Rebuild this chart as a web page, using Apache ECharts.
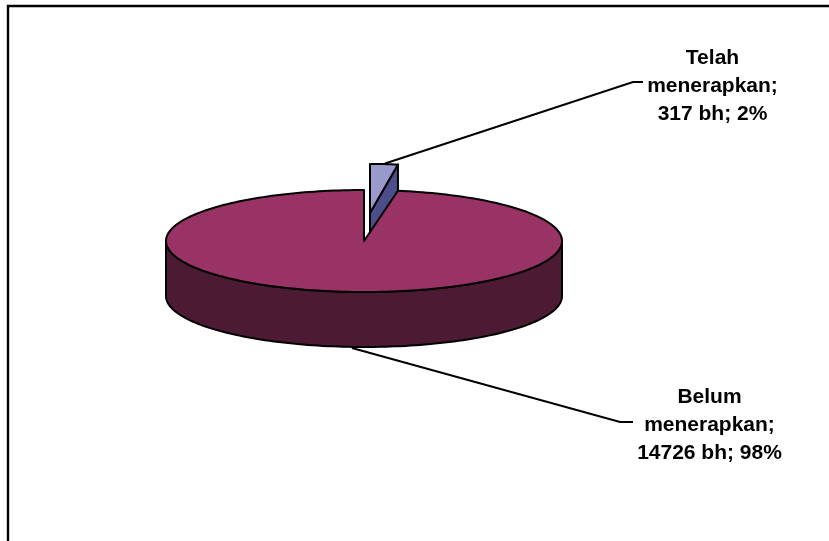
<!DOCTYPE html>
<html><head><meta charset="utf-8">
<style>html,body{margin:0;padding:0;background:#fff}#c{width:829px;height:541px}</style>
<script src="https://cdn.jsdelivr.net/npm/echarts@6/dist/echarts.min.js"></script>
</head><body><div id="c"></div>
<script>
const categories = ['Telah\nmenerapkan', 'Belum\nmenerapkan'];
const values = [317, 14726];
const percents = [2, 98];
const unit = 'bh';
const total = values[0] + values[1];

const CX = 364, CY = 241, RX = 198, RY = 51, DEPTH = 55;
const NOTCH_GAIN = 1.3, SLICE_GAIN = 1.07;
const EX_X = 370, EX_Y = 213, EX_RX = 198, EX_RY = 49;
const COLORS = {top0:'#9999cc', side0:'#4d4d8c', top1:'#993366', side1:'#4d1a33'};
const LINE = {stroke:'#000', lineWidth:2, lineJoin:'round'};
const FONT = 'bold 21px "Liberation Sans", Arial, sans-serif';

function pt(cx, cy, rx, ry, a) { return [cx + rx*Math.sin(a), cy - ry*Math.cos(a)]; }
function arc(cx, cy, rx, ry, a0, a1, n) {
  const out = [];
  for (let i = 0; i <= n; i++) out.push(pt(cx, cy, rx, ry, a0 + (a1-a0)*i/n));
  return out;
}
function poly(points, fill, z2) {
  return {type:'polygon', z2, shape:{points}, style:Object.assign({fill}, LINE)};
}
function polyline(points, z2) {
  return {type:'polyline', z2, shape:{points}, style:{stroke:'#000', lineWidth:2, fill:null}};
}
function renderItem(params, api) {
  const idx = params.dataIndex;
  const value = api.value(1);
  const sweep = value / total * Math.PI * 2;
  const children = [];
  const label = categories[idx] + ';\n' + value + ' ' + unit + '; ' + percents[idx] + '%';
  if (idx === 0) {
    const s = sweep * SLICE_GAIN;
    const a = arc(EX_X, EX_Y, EX_RX, EX_RY, 0, s, 8);
    const corner = a[a.length-1];
    children.push(poly([[EX_X,EX_Y],corner,[corner[0],corner[1]+DEPTH],[EX_X,EX_Y+DEPTH]], COLORS.side0, 1));
    children.push(poly([[EX_X,EX_Y]].concat(a), COLORS.top0, 2));
    children.push(polyline([[385,163.5],[633,82],[643,82]], 10));
    children.push({type:'text', z2:11, style:{text:label, x:712.5, y:44, align:'center', verticalAlign:'top', font:FONT, lineHeight:28, fill:'#000'}});
  } else {
    const start = (values[0]/total) * Math.PI * 2 * NOTCH_GAIN;
    const end = Math.PI * 2;
    const top = arc(CX, CY, RX, RY, start, end, 240);
    const wall = arc(CX, CY, RX, RY, Math.PI/2, Math.PI*1.5, 120);
    const wallLow = wall.map(p => [p[0], p[1]+DEPTH]).reverse();
    children.push(poly(wall.concat(wallLow), COLORS.side1, 3));
    children.push(poly([[CX,CY]].concat(top), COLORS.top1, 4));
    children.push(polyline([[352,348],[620,422],[633,422]], 10));
    children.push({type:'text', z2:11, style:{text:label, x:709.5, y:383, align:'center', verticalAlign:'top', font:FONT, lineHeight:28, fill:'#000'}});
  }
  return {type:'group', children};
}
const chart = echarts.init(document.getElementById('c'), null, {renderer:'canvas'});
chart.setOption({
  animation:false,
  backgroundColor:'#fff',
  graphic:[{type:'rect', z:-1, shape:{x:8,y:6,width:900,height:620}, style:{fill:'#fff',stroke:'#000',lineWidth:2.4}}],
  series:[{type:'custom', coordinateSystem:'none', renderItem,
    data: values.map((v,i)=>[i,v])}]
});
</script></body></html>
